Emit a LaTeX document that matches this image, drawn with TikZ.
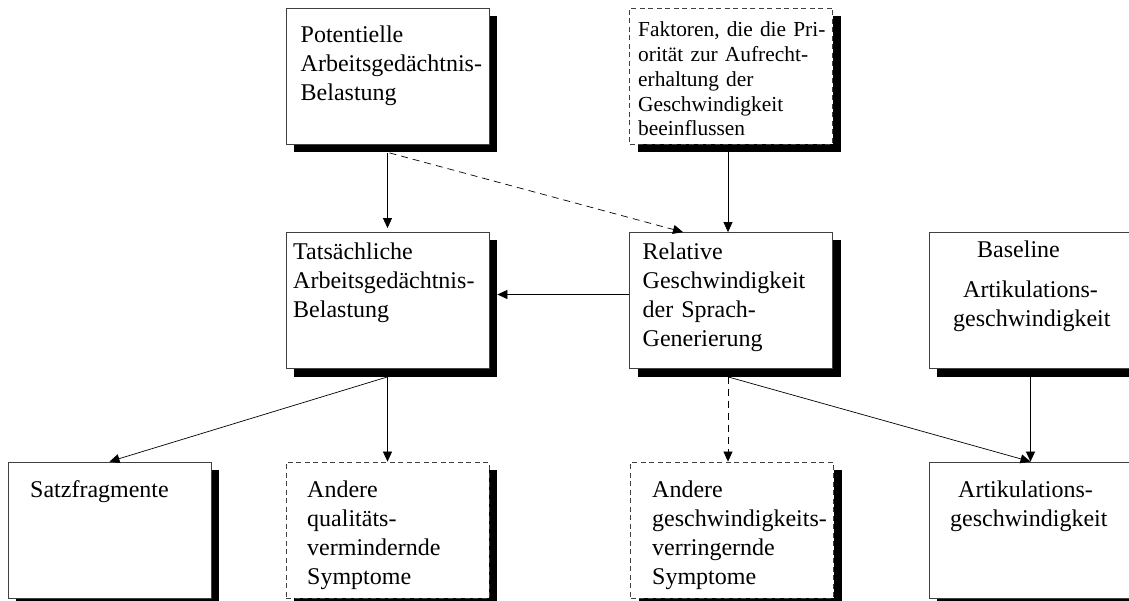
\documentclass[tikz,border=0pt]{standalone}
\usepackage{fontspec}
\setmainfont{Liberation Serif}
\usetikzlibrary{arrows.meta,shadows}

\begin{document}
\begin{tikzpicture}[x=1pt, y=-1pt, >={Triangle[length=10pt,width=9pt]}]
% Stile
\tikzset{
  box/.style={rectangle, draw=black!75, line width=0.8pt, fill=white, minimum width=203pt, minimum height=136pt,
    drop shadow={shadow xshift=8pt, shadow yshift=-8pt, fill=black, opacity=1}},
  dbox/.style={box, dash pattern=on 5pt off 3.5pt},
  txt/.style={text width=200pt, align=left, inner sep=0pt, anchor=base west, font=\fontsize{24}{29}\selectfont},
  small/.style={txt, font=\fontsize{21.4}{24.7}\selectfont},
  link/.style={->, line width=0.7pt},
  dlink/.style={link, dash pattern=on 7pt off 5pt}
}
\useasboundingbox (0,0) rectangle (1129,601);

% Potentielle Belastung
\node[box] (potentiell) at (387.5,76.5) {};
\node[txt] (potentiell_txt) at (300.5,43) {Potentielle\\Arbeitsgedächtnis-\\Belastung};

% Faktoren
\node[dbox] (faktoren) at (731,76) {};
\node[small] (faktoren_txt) at (638,37) {Faktoren, die die Pri-\\orität zur Aufrecht-\\erhaltung der\\Geschwindigkeit\\beeinflussen};

% Tatsaechliche Belastung
\node[box] (tatsaechlich) at (387.5,300.5) {};
\node[txt] (tatsaechlich_txt) at (293,260) {Tatsächliche\\Arbeitsgedächtnis-\\Belastung};

% Relative Geschwindigkeit
\node[box] (relativ) at (731,300.5) {};
\node[txt] (relativ_txt) at (642.5,260) {Relative\\Geschwindigkeit\\der Sprach-\\Generierung};

% Baseline
\node[box] (baseline) at (1030.5,300.5) {};
\node[txt] (baseline_txt) at (953,258) {\hspace*{24pt}Baseline\\[11pt]\hspace*{10pt}Artikulations-\\geschwindigkeit};

% Satzfragmente
\node[box] (satz) at (109.5,530) {};
\node[txt] (satz_txt) at (30,497) {Satzfragmente};

% Andere qualitaetsvermindernde Symptome
\node[dbox] (qualitaet) at (387.5,530) {};
\node[txt] (qualitaet_txt) at (307,497) {Andere\\qualitäts-\\vermindernde\\Symptome};

% Andere geschwindigkeitsverringernde Symptome
\node[dbox] (geschw) at (732,530) {};
\node[txt] (geschw_txt) at (652,497) {Andere\\geschwindigkeits-\\verringernde\\Symptome};

% Artikulationsgeschwindigkeit
\node[box] (artikulation) at (1030.5,530) {};
\node[txt] (artikulation_txt) at (950,497) {\hspace*{8pt}Artikulations-\\geschwindigkeit};

% Verbindungen
\draw[link, shorten >=4pt] ([yshift=-8pt]potentiell.south) -- (tatsaechlich.north);
\draw[dlink] ([xshift=2pt, yshift=-8pt]potentiell.south) -- ([xshift=-48pt]relativ.north);
\draw[link] ([xshift=-3pt, yshift=-8pt]faktoren.south) -- ([xshift=-3pt]relativ.north);
\draw[link, shorten >=8pt] ([yshift=6pt]relativ.west) -- ([yshift=6pt]tatsaechlich.east);
\draw[link] ([yshift=-8pt]tatsaechlich.south) -- (satz.north);
\draw[link] ([yshift=-8pt]tatsaechlich.south) -- (qualitaet.north);
\draw[dlink] ([xshift=-3pt, yshift=-8pt]relativ.south) -- ([xshift=-4pt]geschw.north);
\draw[link] ([xshift=-3pt, yshift=-8pt]relativ.south) -- (artikulation.north);
\draw[link] ([yshift=-8pt]baseline.south) -- (artikulation.north);

\end{tikzpicture}
\end{document}
